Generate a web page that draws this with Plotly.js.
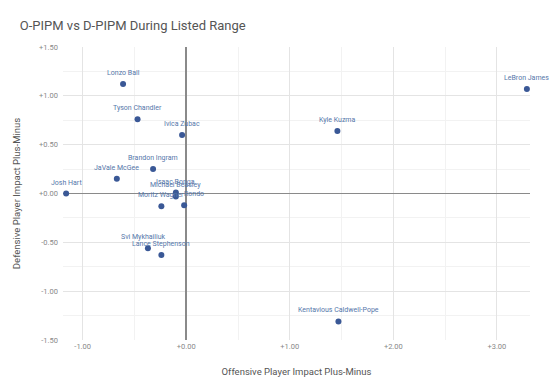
<!DOCTYPE html>
<html>
<head>
<meta charset="utf-8">
<script src="https://cdn.plot.ly/plotly-3.0.1.min.js"></script>
<style>html,body{margin:0;padding:0;background:#fff;}#chart{width:550px;height:392px;}</style>
</head>
<body>
<div id="chart"></div>
<script>
const players = ["Lonzo Ball","Tyson Chandler","Ivica Zubac","Brandon Ingram","JaVale McGee","Josh Hart","Isaac Bonga","Michael Beasley","Moritz Wagner","Rondo","Svi Mykhailiuk","Lance Stephenson","Kyle Kuzma","LeBron James","Kentavious Caldwell-Pope"];
const oPIPM = [-0.61,-0.47,-0.04,-0.32,-0.67,-1.16,-0.10,-0.10,-0.24,-0.02,-0.37,-0.24,1.46,3.29,1.47];
const dPIPM = [1.12,0.76,0.60,0.25,0.15,0.00,0.01,-0.03,-0.13,-0.12,-0.56,-0.63,0.64,1.07,-1.31];
const xTickVals = [-1, 0, 1, 2, 3];
const xTickText = ["-1.00", "+0.00", "+1.00", "+2.00", "+3.00"];
const yTickVals = [-1.5, -1, -0.5, 0, 0.5, 1, 1.5];
const yTickText = ["-1.50", "-1.00", "-0.50", "+0.00", "+0.50", "+1.00", "+1.50"];

// label nudges (layout only) to mimic the reference's collision handling
const labelXShift = {"Rondo": 10, "Svi Mykhailiuk": -4};

const trace = {
  type: "scatter",
  mode: "markers",
  x: oPIPM,
  y: dPIPM,
  marker: {size: 6, color: "#3a5896"},
  cliponaxis: false,
  hoverinfo: "none"
};

const annotations = players.map((p, i) => ({
  x: oPIPM[i], y: dPIPM[i], xref: "x", yref: "y",
  text: p, showarrow: false, xanchor: "center", yanchor: "bottom", yshift: 5,
  xshift: labelXShift[p] || 0,
  font: {family: "Roboto, sans-serif", size: 7, color: "#5577aa"}
}));

const layout = {
  width: 550, height: 392,
  margin: {l: 63, r: 20, t: 47, b: 52},
  paper_bgcolor: "#fff", plot_bgcolor: "#fff",
  showlegend: false,
  font: {family: "Roboto, sans-serif"},
  annotations: annotations,
  title: {text: "O-PIPM vs D-PIPM During Listed Range", x: 0.036, xanchor: "left", y: 0.935, yanchor: "middle",
          font: {family: "Roboto, sans-serif", size: 13, color: "#555"}},
  xaxis: {
    range: [-1.19, 3.32], tickmode: "array", tickvals: xTickVals, ticktext: xTickText,
    showgrid: true, gridcolor: "#e4e4e4", gridwidth: 1,
    minor: {dtick: 0.5, tick0: 0, showgrid: true, gridcolor: "#f2f2f2"},
    zeroline: true, zerolinecolor: "#8a8a8a", zerolinewidth: 1.5,
    showline: false, ticks: "",
    tickfont: {size: 7.5, color: "#888"},
    title: {text: "Offensive Player Impact Plus-Minus", font: {size: 9.5, color: "#555"}, standoff: 18}
  },
  yaxis: {
    range: [-1.5, 1.5], tickmode: "array", tickvals: yTickVals, ticktext: yTickText,
    showgrid: true, gridcolor: "#e4e4e4", gridwidth: 1,
    minor: {dtick: 0.25, tick0: 0, showgrid: true, gridcolor: "#f2f2f2"},
    zeroline: true, zerolinecolor: "#8a8a8a", zerolinewidth: 1.5,
    showline: false, ticks: "", ticklabelstandoff: 4,
    tickfont: {size: 7.5, color: "#888"},
    title: {text: "Defensive Player Impact Plus-Minus", font: {size: 9.5, color: "#555"}, standoff: 16}
  }
};

Plotly.newPlot("chart", [trace], layout, {displayModeBar: false, staticPlot: true});
</script>
</body>
</html>
